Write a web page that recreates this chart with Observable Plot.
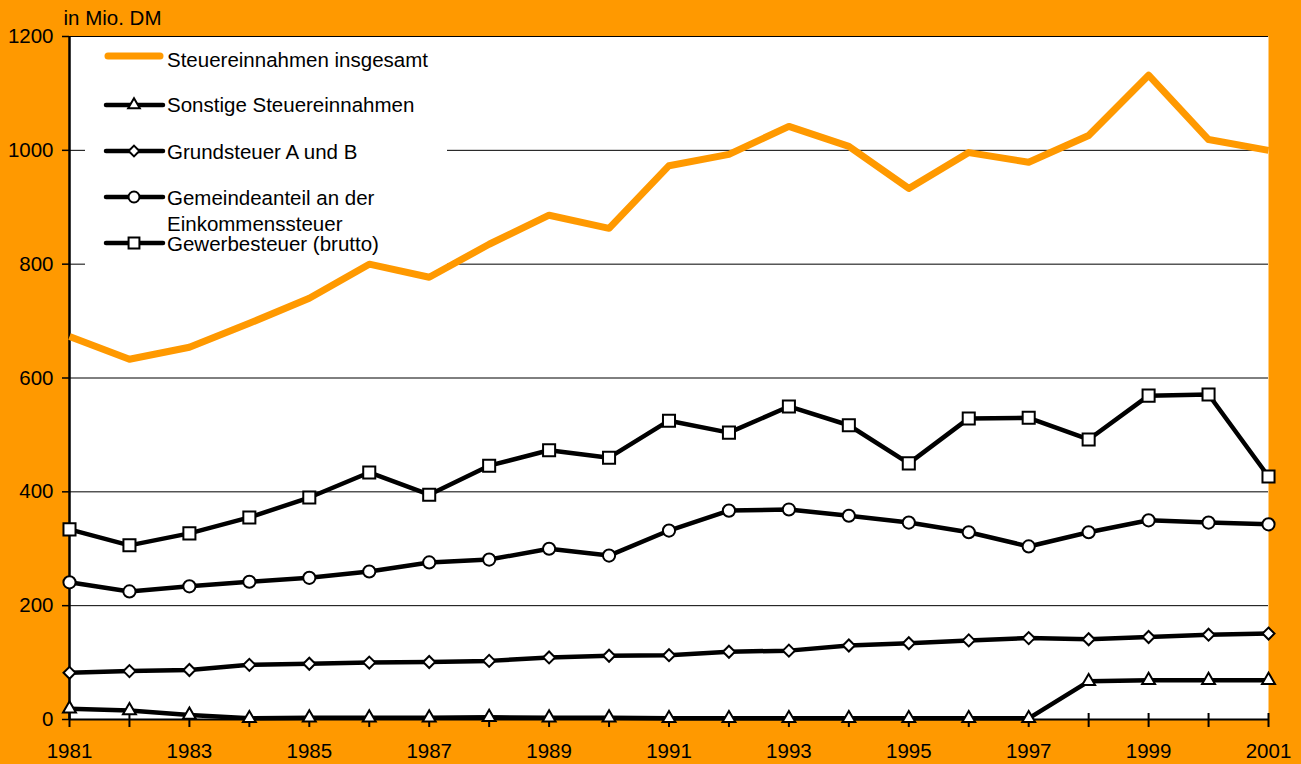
<!DOCTYPE html>
<html>
<head>
<meta charset="utf-8">
<script src="https://cdn.jsdelivr.net/npm/d3@7"></script>
<script src="https://cdn.jsdelivr.net/npm/@observablehq/plot@0.6"></script>
<style>
html, body { margin: 0; padding: 0; background: #FF9900; overflow: hidden; }
#chart svg { display: block; }
</style>
</head>
<body>
<div id="chart"></div>
<script>
// ---- Data (Mio. DM) ----
const years = [1981,1982,1983,1984,1985,1986,1987,1988,1989,1990,1991,1992,1993,1994,1995,1996,1997,1998,1999,2000,2001];
const steuerInsgesamt = [673,633,654,696,740,800,777,835,886,863,973,993,1042,1007,933,996,979,1026,1132,1019,1000];
const sonstige       = [19,16,8,2,3,3,3,4,3,3,2,2,2,2,2,2,2,67,69,69,69];
const grundsteuer    = [82,85,87,96,98,100,101,103,109,112,113,119,121,130,134,139,143,141,145,149,151];
const gemeindeanteil = [241,225,234,242,249,260,276,281,300,288,332,367,369,358,346,329,304,329,350,346,343];
const gewerbesteuer  = [334,306,327,355,390,434,395,446,473,460,525,504,550,517,450,529,530,492,569,571,427];

const seriesNames = [
  "Steuereinnahmen insgesamt",
  "Sonstige Steuereinnahmen",
  "Grundsteuer A und B",
  "Gemeindeanteil an der\nEinkommenssteuer",
  "Gewerbesteuer (brutto)"
];
const yTicks = [0, 200, 400, 600, 800, 1000, 1200];
const yLabel = "in Mio. DM";

const ORANGE = "#FF9900";
const FS = 20.5;
const toRows = vals => years.map((yr, i) => ({year: yr, value: vals[i]}));

const blackSeries = [
  {name: seriesNames[1], rows: toRows(sonstige),       symbol: d3.symbolTriangle, r: 4.8},
  {name: seriesNames[2], rows: toRows(grundsteuer),    symbol: d3.symbolDiamond2, r: 5.4},
  {name: seriesNames[3], rows: toRows(gemeindeanteil), symbol: d3.symbolCircle,   r: 6.1},
  {name: seriesNames[4], rows: toRows(gewerbesteuer),  symbol: d3.symbolSquare,   r: 6.8}
];

// legend drawn as a custom mark (under the data lines, over the grid)
function legendMark(index, scales, values, dims) {
  const g = d3.create("svg:g");
  const x0 = dims.marginLeft, y0 = dims.marginTop;
  g.append("rect")
    .attr("x", x0 + 16).attr("y", y0 + 3)
    .attr("width", 362).attr("height", 228)
    .attr("fill", "white");
  const rowsY = [20, 69, 115, 161, 207];
  const textDy = [11, 7, 8, 8, 8];
  const sx1 = x0 + 37, sx2 = x0 + 94, sxm = x0 + 65, tx = x0 + 98;
  seriesNames.forEach((name, i) => {
    const yy = y0 + rowsY[i];
    if (i === 0) {
      g.append("line").attr("x1", sx1 + 2).attr("x2", sx2 - 3).attr("y1", yy).attr("y2", yy)
        .attr("stroke", ORANGE).attr("stroke-width", 7).attr("stroke-linecap", "round");
    } else {
      const s = blackSeries[i - 1];
      g.append("line").attr("x1", sx1).attr("x2", sx2).attr("y1", yy).attr("y2", yy)
        .attr("stroke", "black").attr("stroke-width", 4.5).attr("stroke-linecap", "round");
      g.append("path")
        .attr("d", d3.symbol(s.symbol, Math.PI * (s.r * 0.9) ** 2)())
        .attr("transform", `translate(${sxm},${yy})`)
        .attr("fill", "white").attr("stroke", "black").attr("stroke-width", 2);
    }
    const t = g.append("text").attr("x", tx).attr("y", yy + textDy[i])
      .attr("fill", "black").attr("font-size", FS).attr("text-anchor", "start");
    name.split("\n").forEach((ln, j) => {
      t.append("tspan").attr("x", tx).attr("dy", j === 0 ? 0 : 26).text(ln);
    });
  });
  return g.node();
}

const marks = [
  Plot.frame({fill: "white", stroke: "none"}),
  Plot.ruleY(yTicks, {stroke: "black", strokeWidth: 1}),
  legendMark,
  Plot.axisY(yTicks, {tickSize: 7, tickPadding: 9, strokeWidth: 1.5, label: null, fontSize: FS,
    tickFormat: d => String(d)}),
  Plot.axisX(years, {tickSize: 8, tickPadding: 16, strokeWidth: 2, label: null, fontSize: FS,
    tickFormat: d => (d % 2 === 1 ? String(d) : "")}),
  Plot.ruleX(years, {x: d => d, y1: 0, y2: 0, insetTop: -6, stroke: "black", strokeWidth: 2}),
  Plot.ruleY([0], {stroke: "black", strokeWidth: 2}),
  Plot.ruleX([years[0]], {stroke: "black", strokeWidth: 2.5}),
  Plot.text([yLabel], {frameAnchor: "top-left", dx: -6, dy: -12, textAnchor: "start", lineAnchor: "bottom", fill: "black", fontSize: FS}),
  Plot.line(toRows(steuerInsgesamt), {x: "year", y: "value", stroke: ORANGE, strokeWidth: 7, strokeLinejoin: "round", strokeLinecap: "butt"})
];
for (const s of blackSeries) {
  marks.push(Plot.line(s.rows, {x: "year", y: "value", stroke: "black", strokeWidth: 4.5, strokeLinejoin: "round"}));
  marks.push(Plot.dot(s.rows, {x: "year", y: "value", symbol: s.symbol, r: s.r, fill: "white", stroke: "black", strokeWidth: 2}));
}

const chart = Plot.plot({
  width: 1301,
  height: 764,
  marginLeft: 69,
  marginRight: 33,
  marginTop: 36,
  marginBottom: 45,
  x: {domain: [1981, 2001]},
  y: {domain: [0, 1200]},
  style: {
    background: ORANGE,
    color: "black",
    fontFamily: "'Liberation Sans', Arial, sans-serif",
    fontSize: FS + "px",
    overflow: "visible"
  },
  marks
});
document.getElementById("chart").appendChild(chart);
</script>
</body>
</html>
